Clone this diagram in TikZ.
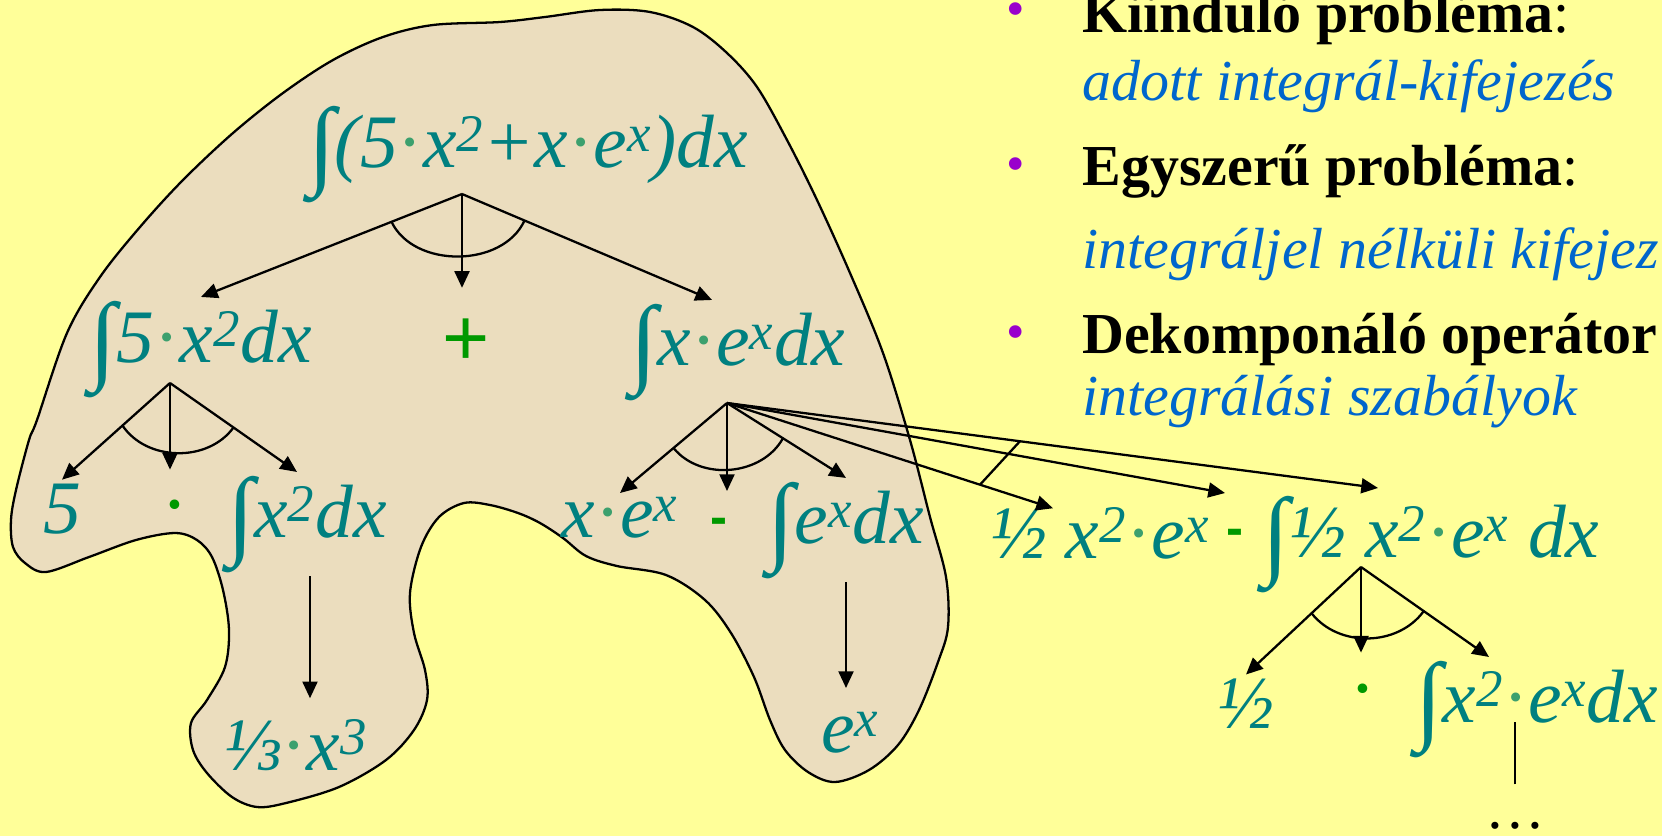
\documentclass[tikz,border=0pt]{standalone}
\usepackage{fontspec}
\setmainfont{Liberation Serif}
\setsansfont{Liberation Sans}
\usetikzlibrary{arrows.meta,calc}

\definecolor{bgyellow}{RGB}{255,255,153}
\definecolor{parchment}{RGB}{235,221,190}
\definecolor{formteal}{RGB}{0,128,128}
\definecolor{dotgreen}{RGB}{60,160,110}
\definecolor{opgreen}{RGB}{0,153,0}
\definecolor{noteblue}{RGB}{0,102,204}
\definecolor{bulletpurple}{RGB}{153,0,204}

\newcommand{\mdot}{\textcolor{dotgreen}{\upshape ·}}
\newcommand{\integ}{\raisebox{-0.12em}{\fontsize{56}{60}\selectfont ∫}}

\tikzset{
  formula/.style={text=formteal, font=\fontsize{43}{50}\selectfont\itshape, anchor=base, inner sep=2pt},
  oper/.style={text=opgreen, font=\fontsize{46}{50}\selectfont\sffamily, inner sep=2pt},
  opminus/.style={oper, font=\fontsize{29}{34}\selectfont\sffamily\bfseries},
  opdot/.style={text=opgreen, font=\fontsize{46}{50}\selectfont, anchor=base, inner sep=2pt},
  arr/.style={-{Triangle[length=9.5pt,width=8.5pt]}, line width=1.3pt},
  andarc/.style={line width=1.3pt},
  bulletpt/.style={text=bulletpurple, font=\fontsize{30}{30}\selectfont, inner sep=0pt},
  notehead/.style={anchor=base west, inner sep=0pt, font=\fontsize{33}{40}\selectfont},
  notebody/.style={notehead, text=noteblue, font=\fontsize{33}{40}\selectfont\itshape},
}

\begin{document}
\begin{tikzpicture}[x=0.02cm, y=-0.02cm]
  \useasboundingbox (0,0) rectangle (1662,836);
  \clip (0,0) rectangle (1662,836);
  \fill[bgyellow] (0,0) rectangle (1662,836);

  % the region of the problem space
  \filldraw[fill=parchment, draw=black, line width=1.3pt] plot[smooth cycle, tension=0.55] coordinates {
    (37,420) (67,333) (100,277) (140,227) (183,180) (233,133) (283,93) (333,60) (383,37)
    (433,25) (500,22) (545,17) (600,10) (650,12) (693,27) (727,53) (757,87) (787,140)
    (817,200) (850,273) (883,353) (910,440) (930,517) (946,577) (948,627) (938,662)
    (919,710) (898,745) (869,770) (835,782) (808,772) (785,750) (770,720) (754,677)
    (731,633) (705,600) (666,575) (617,566) (586,556) (563,538) (540,523) (518,513)
    (490,505) (464,503) (439,517) (421,547) (410,593) (414,633) (425,670) (427,700)
    (414,730) (386,760) (339,787) (286,803) (257,807) (232,797) (207,773) (193,750)
    (191,723) (207,700) (225,667) (229,630) (223,590) (212,557) (197,540) (175,533)
    (136,540) (89,557) (46,572) (25,563) (13,547) (11,520) (16,490) (29,440)};

  % expressions
  \node[formula] (whole) at (528,167) {\integ(5\mdot x\textsuperscript{2}+x\mdot e\textsuperscript{x})dx};
  \node[formula] (fint5) at (201,362) {\integ 5\mdot x\textsuperscript{2}dx};
  \node[oper] (plus) at (466,342) {+};
  \node[formula] (fintxe) at (738,365) {\integ x\mdot e\textsuperscript{x}dx};

  \node[formula] (five) at (62,533) {5};
  \node[opdot] (dotA) at (175,531) {·};
  \node[formula] (fintx2) at (307,537) {\integ x\textsuperscript{2}dx};
  \node[formula] (third) at (296,770) {⅓\mdot x\textsuperscript{3}};

  \node[formula] (xex) at (620,537) {x\mdot e\textsuperscript{x}};
  \node[opminus] (minusA) at (719,526) {-};
  \node[formula] (fintex) at (846,543) {\integ e\textsuperscript{x}dx};
  \node[formula] (ex) at (850,752) {e\textsuperscript{x}};

  \node[formula] (halfxe) at (1100,558) {½ x\textsuperscript{2}\mdot e\textsuperscript{x}};
  \node[opminus] (minusB) at (1235,537) {-};
  \node[formula] (fhalf) at (1431,557) {\integ½ x\textsuperscript{2}\mdot e\textsuperscript{x} dx};

  \node[formula] (half) at (1246,728) {½};
  \node[opdot] (dotB) at (1363,715) {·};
  \node[formula] (fx2e) at (1537,722) {\integ x\textsuperscript{2}\mdot e\textsuperscript{x}dx};
  \node[formula, text=black, inner sep=0pt, font=\fontsize{34}{40}\selectfont] (more) at (1515,828) {…};

  % decomposition of the whole integral
  \coordinate (wholeFork) at (462,194);
  \coordinate (fintxeTip) at ([xshift=-0.52cm]fintxe.north);
  \draw[arr] (wholeFork) -- (fint5.north);
  \draw[arr, shorten >=0.54cm] (wholeFork) -- (wholeFork |- plus.north);
  \draw[arr] (wholeFork) -- (fintxeTip);
  \draw[andarc] ($(wholeFork)!0.27!(fint5.north)$) to[bend right=65] ($(wholeFork)!0.25!(fintxeTip)$);

  \coordinate (fint5Fork) at (170,383);
  \coordinate (fintx2Tip) at ([xshift=-0.2cm]fintx2.north);
  \draw[arr] (fint5Fork) -- (five.north);
  \draw[arr, shorten >=0.52cm] (fint5Fork) -- (fint5Fork |- dotA.north);
  \draw[arr] (fint5Fork) -- (fintx2Tip);
  \draw[andarc] ($(fint5Fork)!0.44!(five.north)$) to[bend right=55] ($(fint5Fork)!0.5!(fintx2Tip)$);
  \draw[arr, shorten >=0.34cm] ([xshift=0.06cm]fintx2.south) -- ([xshift=0.06cm]fintx2.south |- third.north);

  \coordinate (fintxeFork) at (727,403);
  \draw[arr] (fintxeFork) -- (xex.north);
  \draw[arr, shorten >=0.46cm] (fintxeFork) -- (fintxeFork |- minusA.north);
  \draw[arr] (fintxeFork) -- (fintex.north);
  \draw[andarc] ($(fintxeFork)!0.5!(xex.north)$) to[bend right=56] ($(fintxeFork)!0.47!(fintex.north)$);
  \draw[arr, shorten >=0.4cm] (fintex.south) -- (fintex.south |- ex.north);

  % partial integration
  \coordinate (halfxeTip) at ([shift={(-47,5)}]halfxe.north);
  \coordinate (minusBTip) at ([shift={(-10,-44)}]minusB.center);
  \coordinate (fhalfTip) at ([shift={(-53,-4)}]fhalf.north);
  \draw[arr] (fintxeFork) -- (halfxeTip);
  \draw[arr] (fintxeFork) -- (minusBTip);
  \draw[arr] (fintxeFork) -- (fhalfTip);
  \draw[andarc] ($(fintxeFork)!0.776!(halfxeTip)$) -- ($(fintxeFork)!0.45!(fhalfTip)$);

  \coordinate (fhalfFork) at (1361,567);
  \coordinate (fx2eTip) at ([xshift=-0.96cm]fx2e.north);
  \draw[arr] (fhalfFork) -- (half.north);
  \draw[arr, shorten >=0.54cm] (fhalfFork) -- (fhalfFork |- dotB.north);
  \draw[arr] (fhalfFork) -- (fx2eTip);
  \draw[andarc] ($(fhalfFork)!0.43!(half.north)$) to[bend right=53] ($(fhalfFork)!0.49!(fx2eTip)$);
  \draw[andarc, shorten <=0.74cm] (more.north) -- (more.north |- fx2e.base);

  % notes on the right
  \node[bulletpt] (bulA) at (1016,15) {•};
  \node[notehead] (noteA) at (1082,32) {\textbf{Kiinduló probléma}:};
  \node[notebody] (noteB) at (1082,100) {adott integrál-kifejezés};
  \node[bulletpt] (bulB) at (1016,170) {•};
  \node[notehead] (noteC) at (1082,185) {\textbf{Egyszerű probléma}:};
  \node[notebody] (noteD) at (1082,268) {integráljel nélküli kifejez};
  \node[bulletpt] (bulC) at (1016,338) {•};
  \node[notehead] (noteE) at (1082,353) {\textbf{Dekomponáló operátor}};
  \node[notebody] (noteF) at (1082,415) {integrálási szabályok};
\end{tikzpicture}
\end{document}
